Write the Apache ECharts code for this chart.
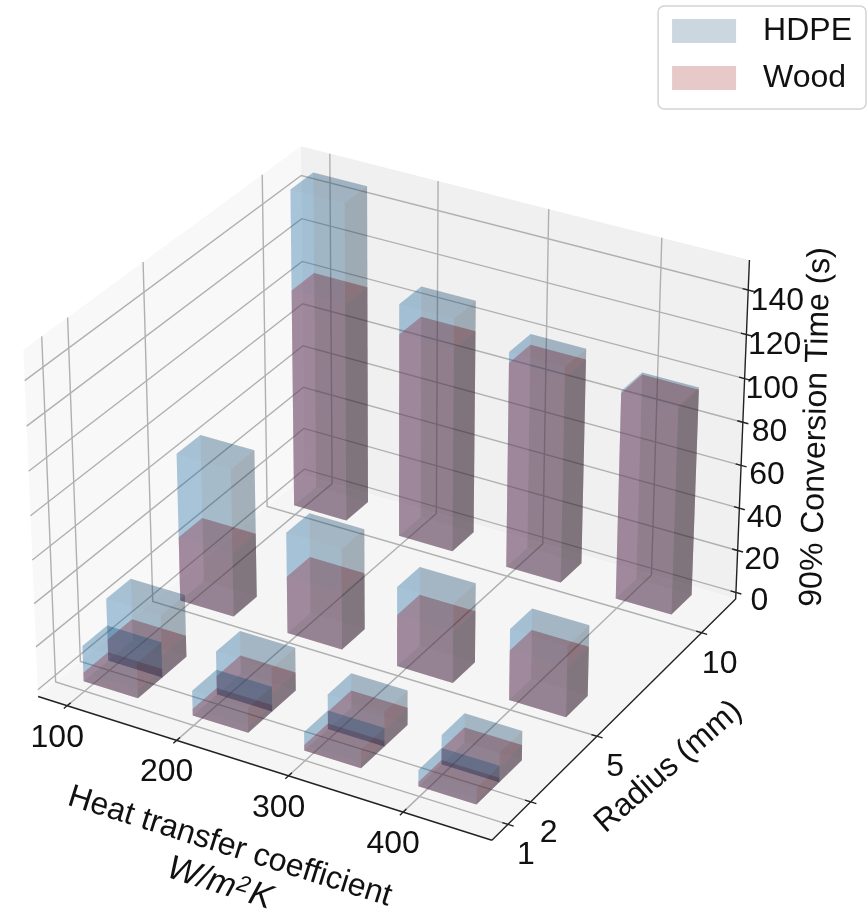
<!DOCTYPE html>
<html>
<head>
<meta charset="utf-8">
<title>90% conversion time</title>
<script src="https://cdn.jsdelivr.net/npm/echarts@6/dist/echarts.min.js"></script>
<style>
    html, body { margin: 0; padding: 0; background: #fff; }
    #chart1 { width: 867px; height: 913px; }
</style>
</head>
<body>
<div id="chart1"></div>
<script>
// tick labels
var coefficients = [100, 200, 300, 400]
var radii = [1, 2, 5, 10]
var timeTicks = [0, 20, 40, 60, 80, 100, 120, 140]

// 90% conversion time (s), one value per coefficient
var hdpeR1 = [16.5, 11.5, 8.5, 7.5]
var hdpeR2 = [29, 20, 16, 13.5]
var hdpeR5 = [69, 47, 37, 33]
var hdpeR10 = [149, 109.5, 101, 97]
var woodR1 = [4, 3, 2.5, 2]
var woodR2 = [10, 8.5, 8, 7]
var woodR5 = [30, 26.5, 24, 23]
var woodR10 = [102.5, 95.5, 96, 96]

var hdpeRows = [hdpeR1, hdpeR2, hdpeR5, hdpeR10]
var woodRows = [woodR1, woodR2, woodR5, woodR10]

// bar footprint in data units
var barDx = 50
var barDy = 1
var barShiftX = -3
var barShiftY = 0.1

// view of the 3d box
var xLim = [73, 476]
var yLim = [0.3, 11.7]
var zLim = [-3.2, 153.4]
var elev = 30 * Math.PI / 180
var azim = -60 * Math.PI / 180
var dist = 11.5
var boxX = 1.1905
var boxY = 1.1905
var boxZ = 0.9194
var scaleX = 5030
var scaleY = 4950
var originX = 392.5
var originY = 479

var w = [Math.cos(elev) * Math.cos(azim), Math.cos(elev) * Math.sin(azim), Math.sin(elev)]
var u = [-w[1] / Math.cos(elev), w[0] / Math.cos(elev), 0]
var v = [w[1] * u[2] - w[2] * u[1], w[2] * u[0] - w[0] * u[2], w[0] * u[1] - w[1] * u[0]]

function toBox (x, y, z) {
    return [
        ((x - xLim[0]) / (xLim[1] - xLim[0]) - 0.5) * boxX,
        ((y - yLim[0]) / (yLim[1] - yLim[0]) - 0.5) * boxY,
        ((z - zLim[0]) / (zLim[1] - zLim[0]) - 0.5) * boxZ
    ]
}
function dot (a, b) {
    return a[0] * b[0] + a[1] * b[1] + a[2] * b[2]
}
function depth (p) {
    return dist - dot(w, toBox(p[0], p[1], p[2]))
}
// 3d data point -> plane the hidden cartesian axes are scaled in
function project (p) {
    var b = toBox(p[0], p[1], p[2])
    var d = dist - dot(w, b)
    return [dot(u, b) / d, dot(v, b) / d]
}

// light of bar3d: faces get 0.65 + 0.35 * (normal . light)
var shades = { front: 0.883, left: 0.883, top: 0.767, bottom: 0.533, back: 0.417, right: 0.417 }

function barFaces (rows) {
    var faces = []
    rows.forEach(function (row, r) {
        row.forEach(function (h, c) {
            var x0 = coefficients[c] + barShiftX
            var x1 = x0 + barDx
            var y0 = radii[r] + barShiftY
            var y1 = y0 + barDy
            var quads = {
                bottom: [[x0, y0, 0], [x1, y0, 0], [x1, y1, 0], [x0, y1, 0]],
                top: [[x0, y0, h], [x1, y0, h], [x1, y1, h], [x0, y1, h]],
                front: [[x0, y0, 0], [x1, y0, 0], [x1, y0, h], [x0, y0, h]],
                back: [[x0, y1, 0], [x1, y1, 0], [x1, y1, h], [x0, y1, h]],
                left: [[x0, y0, 0], [x0, y1, 0], [x0, y1, h], [x0, y0, h]],
                right: [[x1, y0, 0], [x1, y1, 0], [x1, y1, h], [x1, y0, h]]
            }
            Object.keys(quads).forEach(function (name) {
                var q = quads[name]
                var avg = (depth(q[0]) + depth(q[1]) + depth(q[2]) + depth(q[3])) / 4
                faces.push({ quad: q, shade: shades[name], avg: avg })
            })
        })
    })
    // far faces first
    faces.sort(function (a, b) { return b.avg - a.avg })
    return faces
}

function faceSeries (name, faces, rgb, legendColor, order) {
    return {
        name: name,
        type: 'custom',
        coordinateSystem: 'cartesian2d',
        silent: true,
        animation: false,
        itemStyle: { color: legendColor },
        z: order,
        data: faces.map(function (f, i) { return [i] }),
        renderItem: function (params, api) {
            var f = faces[params.dataIndex]
            var c = rgb.map(function (k) { return Math.round(k * f.shade) })
            return {
                type: 'polygon',
                shape: {
                    points: f.quad.map(function (p) { return api.coord(project(p)) })
                },
                style: { fill: 'rgba(' + c.join(',') + ',0.2)', stroke: null }
            }
        }
    }
}

function frameChildren (api) {
    var kids = []
    var xa = xLim[0], xb = xLim[1], ya = yLim[0], yb = yLim[1], za = zLim[0], zb = zLim[1]

    function pane (pts, color) {
        kids.push({
            type: 'polygon',
            shape: { points: pts.map(function (p) { return api.coord(project(p)) }) },
            style: { fill: color }
        })
    }
    function line (pts, color, width) {
        kids.push({
            type: 'polyline',
            shape: { points: pts.map(function (p) { return api.coord(project(p)) }) },
            style: { stroke: color, lineWidth: width, fill: 'none' }
        })
    }
    function label (p, dx, dy, text, rot, extra) {
        var pos = api.coord(project(p))
        kids.push({
            type: 'text',
            x: pos[0] + dx,
            y: pos[1] + dy,
            rotation: rot || 0,
            style: Object.assign({
                text: text,
                fill: '#111',
                font: '32px "Liberation Sans", Arial, sans-serif',
                align: 'center',
                verticalAlign: 'middle'
            }, extra || {})
        })
    }

    pane([[xa, ya, za], [xa, yb, za], [xa, yb, zb], [xa, ya, zb]], '#f8f8f8')
    pane([[xa, yb, za], [xb, yb, za], [xb, yb, zb], [xa, yb, zb]], '#f0f0f0')
    pane([[xa, ya, za], [xb, ya, za], [xb, yb, za], [xa, yb, za]], '#f5f5f5')

    var gridColor = '#b0b0b0'
    coefficients.forEach(function (x) {
        line([[x, ya, za], [x, yb, za], [x, yb, zb]], gridColor, 1.4)
    })
    radii.forEach(function (y) {
        line([[xb, y, za], [xa, y, za], [xa, y, zb]], gridColor, 1.4)
    })
    timeTicks.forEach(function (z) {
        line([[xa, ya, z], [xa, yb, z], [xb, yb, z]], gridColor, 1.4)
    })

    // axis lines
    var axisColor = '#222'
    line([[xa, ya, za], [xb, ya, za]], axisColor, 1.4)
    line([[xb, ya, za], [xb, yb, za]], axisColor, 1.4)
    line([[xb, yb, za], [xb, yb, zb]], axisColor, 1.4)

    // ticks and tick labels
    var tx = (xb - xa) * 0.012
    var ty = (yb - ya) * 0.012
    coefficients.forEach(function (x) {
        line([[x, ya - ty, za], [x, ya + ty, za]], axisColor, 1.4)
        label([x, ya, za], -10, 32, String(x))
    })
    radii.forEach(function (y) {
        line([[xb - tx, y, za], [xb + tx, y, za]], axisColor, 1.4)
        label([xb, y, za], 18, 31, String(y))
    })
    timeTicks.forEach(function (z) {
        line([[xb - tx, yb, z], [xb + tx, yb, z]], axisColor, 1.4)
        label([xb, yb, z], 23.5 + z * 0.04, 9 + z * 0.014, String(z))
    })

    // axis titles, placed by the middle of each axis
    label([(xa + xb) / 2, ya, za], -30, 80, 'Heat transfer coefficient', -17.5 * Math.PI / 180)
    label([(xa + xb) / 2, ya, za], -40, 117, '{a|W/m}{s|2}{a|K}', -17.5 * Math.PI / 180, {
        rich: {
            a: { font: 'italic 34px "Liberation Sans", Arial, sans-serif', fill: '#111' },
            s: { font: 'italic 23px "Liberation Sans", Arial, sans-serif', fill: '#111', verticalAlign: 'top', padding: [0, 2, 10, 1] }
        }
    })
    label([xb, (ya + yb) / 2, za], 50, 52, 'Radius (mm)', 41 * Math.PI / 180)
    label([xb, yb, (za + zb) / 2], 74, -6, '90% Conversion Time (s)', 88.6 * Math.PI / 180)
    return kids
}

var myChart = echarts.init(document.getElementById('chart1'))
var option = {
    animation: false,
    // the 3d projection lands on this plane, hidden axes turn it into pixels
    grid: { left: 0, right: 0, top: 0, bottom: 0 },
    xAxis: { type: 'value', show: false, scale: true, min: (0 - originX) / scaleX, max: (867 - originX) / scaleX },
    yAxis: { type: 'value', show: false, scale: true, min: (originY - 913) / scaleY, max: originY / scaleY },
    legend: {
        orient: 'vertical',
        right: 1,
        top: 6,
        padding: [9, 14, 15, 14],
        itemWidth: 64,
        itemHeight: 24,
        itemGap: 15,
        borderColor: '#d4d4d4',
        borderWidth: 1.5,
        borderRadius: 6,
        backgroundColor: '#fff',
        selectedMode: false,
        textStyle: {
            fontFamily: '"Liberation Sans", Arial, sans-serif',
            fontSize: 32,
            color: '#111',
            padding: [0, 0, 0, 22],
            lineHeight: 24
        },
        data: [
            { name: 'HDPE', icon: 'rect', itemStyle: { color: '#ccd6df' } },
            { name: 'Wood', icon: 'rect', itemStyle: { color: '#e8c9c9' } }
        ]
    },
    series: [
        {
            name: 'frame',
            type: 'custom',
            coordinateSystem: 'cartesian2d',
            silent: true,
            animation: false,
            z: 1,
            data: [[0]],
            renderItem: function (params, api) {
                return { type: 'group', children: frameChildren(api) }
            }
        },
        // wood is laid down first, the blue bars sit over it
        faceSeries('Wood', barFaces(woodRows), [255, 0, 0], '#e8c9c9', 5),
        faceSeries('HDPE', barFaces(hdpeRows), [31, 119, 180], '#ccd6df', 6)
    ]
}
myChart.setOption(option)
</script>
</body>
</html>
